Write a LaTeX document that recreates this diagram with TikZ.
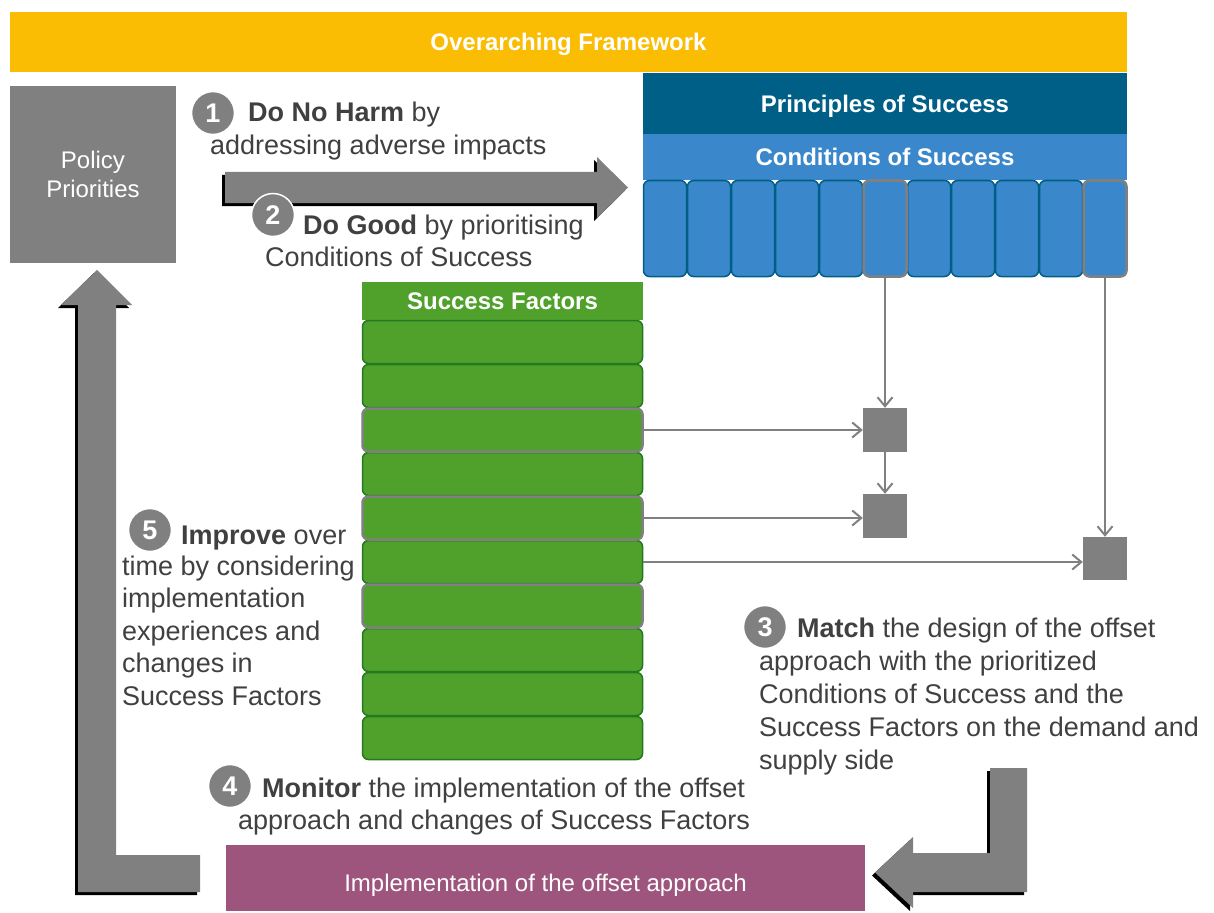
\documentclass[tikz,border=0pt]{standalone}
\usepackage{fontspec}
\setmainfont{Liberation Sans}
\usetikzlibrary{arrows.meta,shadows}
\definecolor{frameyellow}{HTML}{FBBC04}
\definecolor{principleblue}{HTML}{005F87}
\definecolor{conditionblue}{HTML}{3A88CB}
\definecolor{factorgreen}{HTML}{4FA12C}
\definecolor{factorborder}{HTML}{237A1E}
\definecolor{stepgray}{HTML}{808080}
\definecolor{labelgray}{HTML}{404040}
\definecolor{implpurple}{HTML}{9E557D}

\begin{document}
\begin{tikzpicture}[x=1pt,y=-1pt,
    headfont/.style={text=white,text height=17.5pt,text depth=0pt,font=\fontsize{24pt}{29pt}\selectfont\bfseries},
    plainfont/.style={text=white,font=\fontsize{24pt}{29pt}\selectfont},
    steptext/.style={anchor=base west,inner sep=0pt,text=labelgray,font=\fontsize{27pt}{33pt}\selectfont},
    numdot/.style={circle,fill=stepgray,draw=white,line width=1.5pt,minimum size=43pt,inner sep=0pt,
      text=white,font=\fontsize{27pt}{27pt}\selectfont\bfseries},
    blockarrow/.style={fill=stepgray,drop shadow={shadow xshift=-3pt,shadow yshift=-3pt,opacity=1,fill=black}},
    link/.style={draw=stepgray,line width=2pt,-{Straight Barb[length=9pt,width=15pt]}},
    colbox/.style={draw=principleblue,fill=conditionblue,line width=1.5pt,rounded corners=6pt,
      minimum width=43pt,minimum height=96pt,inner sep=0pt},
    pickcol/.style={colbox,draw=stepgray,line width=2.5pt},
    factorrow/.style={draw=factorborder,fill=factorgreen,line width=1.5pt,rounded corners=6pt,
      minimum width=280pt,minimum height=43pt,inner sep=0pt},
    pickrow/.style={factorrow,draw=stepgray,line width=2.5pt},
    matchbox/.style={fill=stepgray,minimum width=44pt,minimum height=44pt,inner sep=0pt}]
  \useasboundingbox (0,0) rectangle (1214,912);

  \node[headfont,fill=frameyellow,minimum width=1117pt,minimum height=60pt] (frame) at (568.5,42) {Overarching Framework};
  \node[plainfont,fill=stepgray,minimum width=166pt,minimum height=177pt,align=center] (policy) at (93,174.5) {Policy\\Priorities};
  \node[headfont,fill=principleblue,minimum width=484pt,minimum height=61pt] (principles) at (885,103.5) {Principles of Success};
  \node[headfont,fill=conditionblue,minimum width=484pt,minimum height=46pt] (conditions) at (885,157) {Conditions of Success};
  \node[headfont,fill=factorgreen,minimum width=281pt,minimum height=38pt] (factors) at (502.5,301) {Success Factors};

  % conditions and factors
  \foreach \i in {1,2,3,4,5,7,8,9,10}
    \node[colbox] (c\i) at ({665+44*(\i-1)},228.5) {};
  \foreach \i in {6,11}
    \node[pickcol] (c\i) at ({665+44*(\i-1)},228.5) {};
  \foreach \i in {1,2,4,6,8,9,10}
    \node[factorrow] (f\i) at (502.5,{342+44*(\i-1)}) {};
  \foreach \i in {3,5,7}
    \node[pickrow] (f\i) at (502.5,{342+44*(\i-1)}) {};

  \node[matchbox] (m1) at (885,430) {};
  \node[matchbox] (m2) at (885,516) {};
  \node[matchbox,minimum height=43pt] (m3) at (1105,558.5) {};

  \draw[link] (c6.south) -- (m1.north);
  \draw[link] (m1.south) -- (m2.north);
  \draw[link] (c11.south) -- (m3.north);
  \draw[link] (f3.east) -- (f3.east -| m1.west);
  \draw[link] (f5.east) -- (f5.east -| m2.west);
  \draw[link] (f6.east) -- (f6.east -| m3.west);

  % block arrows
  \path[blockarrow] (225,172) -- (597,172) -- (597,157) -- (628,187.5) -- (597,218) -- (597,203) -- (225,203) -- cycle;
  \path[blockarrow] (97,270) -- (132,305) -- (116,305) -- (116,855) -- (200,855) -- (200,892) -- (78,892) -- (78,305) -- (61,305) -- cycle;
  \path[blockarrow] (990,768) -- (1027,768) -- (1027,892) -- (913,892) -- (913,908) -- (875,872.5) -- (913,837) -- (913,853) -- (990,853) -- cycle;

  \node[plainfont,fill=implpurple,text height=27pt,text depth=0pt,minimum width=639pt,minimum height=66pt] (impl) at (545.5,878) {Implementation of the offset approach};

  % steps
  \node[numdot] (n1) at (213,113) {1};
  \node[steptext] (t1) at (248,122) {\textbf{Do No Harm} by};
  \node[steptext] (t1-1) at (210,155) {addressing adverse impacts};

  \node[numdot] (n2) at (273,215) {2};
  \node[steptext] (t2) at (303,234) {\textbf{Do Good} by prioritising};
  \node[steptext] (t2-1) at (265,266) {Conditions of Success};

  \node[numdot] (n3) at (765,627) {3};
  \node[steptext] (t3) at (797,637) {\textbf{Match} the design of the offset};
  \foreach \txt [count=\i] in {approach with the prioritized,Conditions of Success and the,Success Factors on the demand and,supply side}
    \node[steptext] (t3-\i) at (759,{670+33*(\i-1)}) {\txt};

  \node[numdot] (n4) at (230,786) {4};
  \node[steptext] (t4) at (262,797) {\textbf{Monitor} the implementation of the offset};
  \node[steptext] (t4-1) at (238,829) {approach and changes of Success Factors};

  \node[numdot] (n5) at (150,530) {5};
  \node[steptext] (t5) at (181,544) {\textbf{Improve} over};
  \foreach \txt [count=\i] in {time by considering,implementation,experiences and,changes in,Success Factors}
    \node[steptext] (t5-\i) at (122,{575+32.5*(\i-1)}) {\txt};
\end{tikzpicture}
\end{document}
